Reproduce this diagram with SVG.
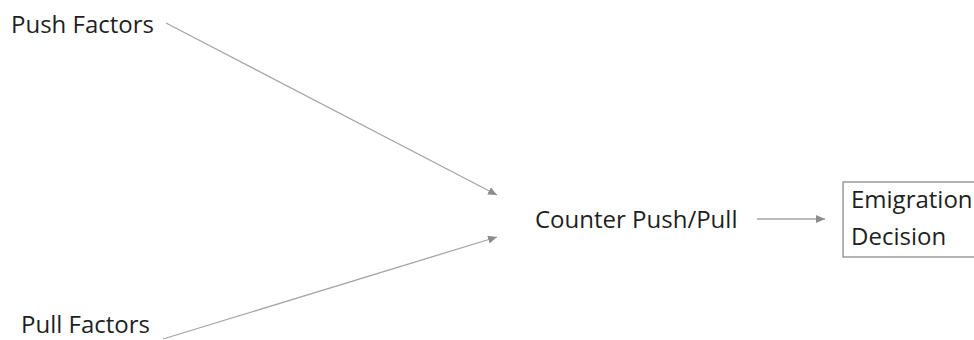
<svg xmlns="http://www.w3.org/2000/svg" width="974" height="340" viewBox="0 0 974 340">
<style>
  .lbl { font-family: "Open Sans", "Liberation Sans", sans-serif; font-size: 24px; fill: #1f1f1f; }
  .conn { stroke: #a6a6a6; stroke-width: 1.3; fill: none; marker-end: url(#ah); }
  .box { fill: #ffffff; stroke: #8c8c8c; stroke-width: 1.3; }
</style>
<defs>
  <marker id="ah" markerUnits="userSpaceOnUse" markerWidth="10" markerHeight="8" refX="9" refY="4" orient="auto">
    <path d="M0,0 L9,4 L0,8 Z" fill="#8c8c8c"/>
  </marker>
</defs>
<rect width="974" height="340" fill="#ffffff"/>
<g id="connectors">
  <line class="conn" x1="166" y1="23" x2="497" y2="195"/>
  <line class="conn" x1="163" y1="339" x2="497" y2="237"/>
  <line class="conn" x1="757" y1="219" x2="825" y2="219"/>
</g>
<g id="push">
  <text class="lbl" x="11" y="33">Push Factors</text>
</g>
<g id="pull">
  <text class="lbl" x="21" y="333">Pull Factors</text>
</g>
<g id="counter">
  <text class="lbl" x="535" y="228">Counter Push/Pull</text>
</g>
<g id="decision">
  <rect class="box" x="843" y="182" width="140" height="75"/>
  <text class="lbl" x="851" y="208">Emigration</text>
  <text class="lbl" x="851" y="245">Decision</text>
</g>
</svg>
